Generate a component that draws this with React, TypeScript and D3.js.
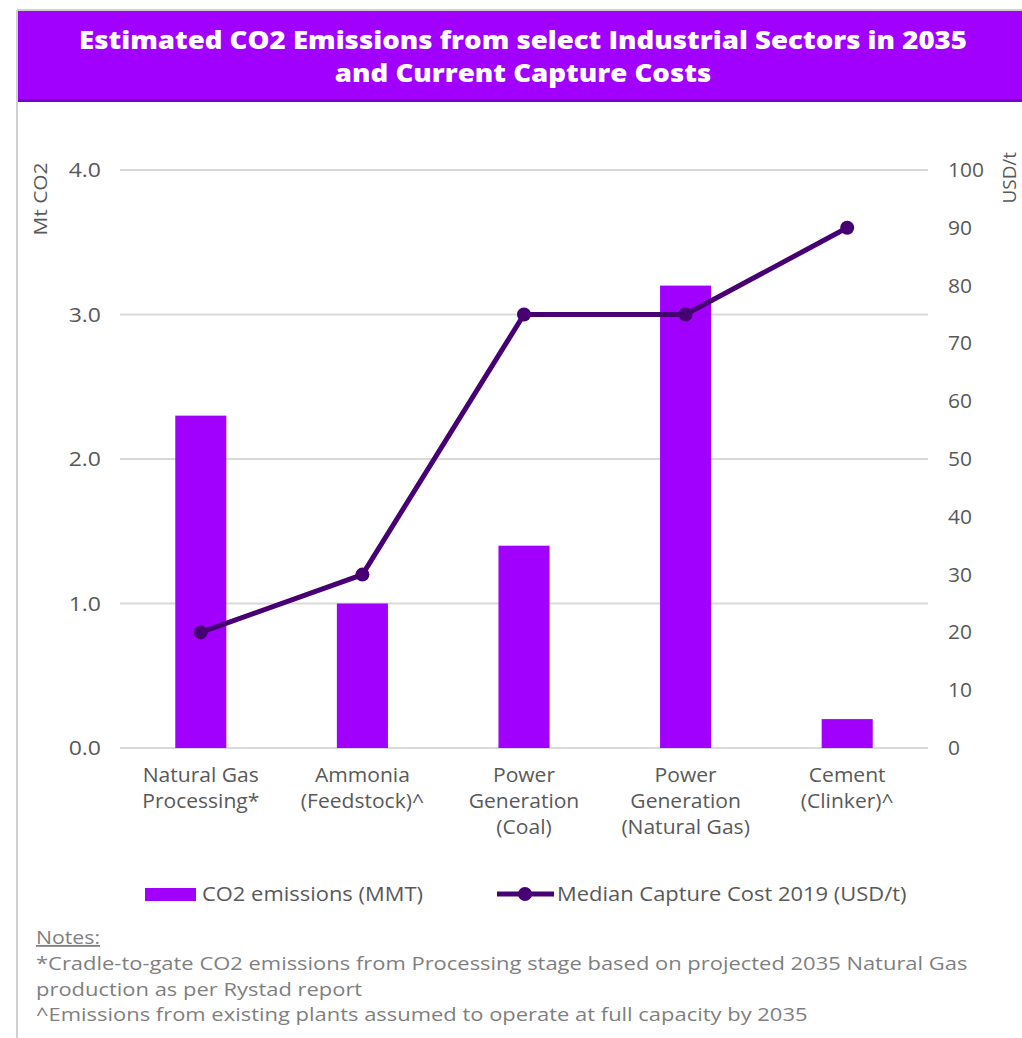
import React from "react";
import * as d3 from "d3";

const categories = [
  ["Natural Gas", "Processing*"],
  ["Ammonia", "(Feedstock)^"],
  ["Power", "Generation", "(Coal)"],
  ["Power", "Generation", "(Natural Gas)"],
  ["Cement", "(Clinker)^"],
];
const emissions = [2.3, 1.0, 1.4, 3.2, 0.2];
const captureCost = [20, 30, 75, 75, 90];
const leftTicks = [0, 1, 2, 3, 4];
const rightTicks = [0, 10, 20, 30, 40, 50, 60, 70, 80, 90, 100];
const titleLines = [
  "Estimated CO2 Emissions from select Industrial Sectors  in 2035",
  "and Current Capture Costs",
];
const notes = [
  "*Cradle-to-gate CO2 emissions from Processing stage based on projected 2035 Natural Gas",
  "production as per Rystad report",
  "^Emissions from existing plants assumed to operate at full capacity by 2035",
];

const W = 1022;
const H = 1038;
const PURPLE = "#A100FF";
const DARK = "#460073";
const TXT = "#595959";
const FONT = "'Open Sans', 'Noto Sans', sans-serif";

function T(props: {
  x: number;
  y: number;
  sx?: number;
  anchor?: string;
  size: number;
  fill?: string;
  weight?: number;
  dy?: string;
  deco?: string;
  children: React.ReactNode;
}) {
  const { x, y, sx = 1, anchor = "start", size, fill = TXT, weight, dy, deco, children } = props;
  return (
    <text
      transform={`translate(${x},${y}) scale(${sx},1)`}
      textAnchor={anchor}
      fontSize={size}
      fill={fill}
      fontWeight={weight}
      dy={dy}
      textDecoration={deco}
    >
      {children}
    </text>
  );
}

export default function App() {
  const x = d3
    .scaleBand<number>()
    .domain(d3.range(categories.length))
    .range([120, 928])
    .paddingInner(0.684)
    .paddingOuter(0.342);
  const yL = d3.scaleLinear().domain([0, 4]).range([748, 170]);
  const yR = d3.scaleLinear().domain([0, 100]).range([748, 170]);
  const cx = (i: number) => (x(i) as number) + x.bandwidth() / 2;
  const line = d3
    .line<number>()
    .x((_, i) => cx(i))
    .y((d) => yR(d));

  return (
    <svg
      width={W}
      height={H}
      style={{ position: "absolute", left: 0, top: 0, background: "#fff" }}
      fontFamily={FONT}
    >
      <rect x={0} y={0} width={W} height={H} fill="#fff" />
      {/* frame */}
      <line x1={17} x2={W} y1={10} y2={10} stroke="#d0d0d0" strokeWidth={2} />
      <line x1={17} x2={17} y1={10} y2={H} stroke="#d0d0d0" strokeWidth={2} />
      {/* title band */}
      <rect x={18} y={11} width={W - 18} height={91} fill={PURPLE} />
      <rect x={18} y={99} width={W - 18} height={3} fill="#7a00c2" />
      {titleLines.map((t, i) => (
        <T key={i} x={523} y={49 + i * 33} sx={1.105} anchor="middle" fill="#fff" size={25} weight={800}>
          {t}
        </T>
      ))}
      {/* gridlines */}
      {leftTicks.map((t) => (
        <line
          key={t}
          x1={120}
          x2={928}
          y1={yL(t)}
          y2={yL(t)}
          stroke="#d9d9d9"
          strokeWidth={2}
        />
      ))}
      {/* left ticks */}
      {leftTicks.map((t) => (
        <T key={t} x={101} y={yL(t)} dy="0.35em" anchor="end" size={20} sx={1.15}>
          {d3.format(".1f")(t)}
        </T>
      ))}
      {/* right ticks */}
      {rightTicks.map((t) => (
        <T key={t} x={948} y={yR(t)} dy="0.35em" size={20} sx={1.05}>
          {t}
        </T>
      ))}
      <text
        transform="translate(47,199) rotate(-90) scale(1.1,1)"
        textAnchor="middle"
        fill={TXT}
        fontSize={19}
      >
        Mt CO2
      </text>
      <text
        transform="translate(1016,152) rotate(-90) scale(1.05,1)"
        textAnchor="end"
        fill={TXT}
        fontSize={18}
      >
        USD/t
      </text>
      {/* bars */}
      {emissions.map((v, i) => (
        <rect
          key={i}
          x={x(i)}
          y={yL(v)}
          width={x.bandwidth()}
          height={yL(0) - yL(v)}
          fill={PURPLE}
        />
      ))}
      {/* line */}
      <path d={line(captureCost) || ""} fill="none" stroke={DARK} strokeWidth={5} />
      {captureCost.map((v, i) => (
        <circle key={i} cx={cx(i)} cy={yR(v)} r={7} fill={DARK} />
      ))}
      {/* category labels */}
      {categories.map((lines, i) =>
        lines.map((l, j) => (
          <T key={i + "-" + j} x={cx(i)} y={782 + j * 26} anchor="middle" size={19.5} sx={1.08}>
            {l}
          </T>
        ))
      )}
      {/* legend */}
      <rect x={145} y={888} width={51} height={13} fill={PURPLE} />
      <T x={202} y={901} size={19.5} sx={1.125}>
        CO2 emissions (MMT)
      </T>
      <line x1={497} x2={554} y1={894} y2={894} stroke={DARK} strokeWidth={5} />
      <circle cx={525} cy={894} r={7} fill={DARK} />
      <T x={557} y={901} size={19.5} sx={1.125}>
        Median Capture Cost 2019 (USD/t)
      </T>
      {/* notes */}
      <T x={36} y={944} fill="#7f7f7f" size={18.5} sx={1.15} deco="underline">
        Notes:
      </T>
      {notes.map((n, i) => (
        <T key={i} x={36} y={970 + i * 25.5} fill="#7f7f7f" size={19} sx={1.155}>
          {n}
        </T>
      ))}
    </svg>
  );
}
